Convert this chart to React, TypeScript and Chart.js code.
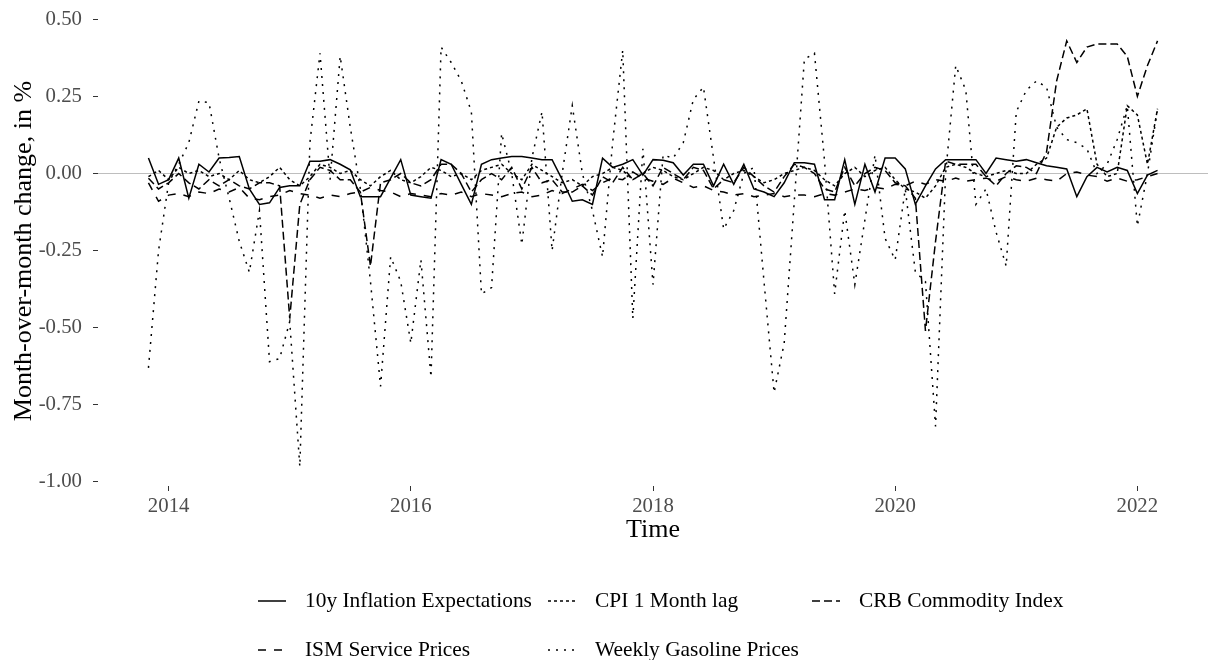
import React, { useEffect, useRef } from "react";
import { Chart, registerables } from "chart.js";

Chart.register(...registerables);

// Monthly observations, Nov 2013 .. Mar 2022
const START_YEAR = 2013;
const START_MONTH = 11; // November
const N_MONTHS = 101;
const months: number[] = [];
for (let i = 0; i < N_MONTHS; i++) months.push(START_YEAR + (START_MONTH - 1 + i) / 12);

const inflation10y = [
  0.05, -0.035, -0.02, 0.05, -0.08, 0.03, 0.005, 0.05, 0.052, 0.055,
  -0.05, -0.1, -0.095, -0.045, -0.04, -0.04, 0.04, 0.04, 0.045, 0.03,
  0.012, -0.075, -0.075, -0.075, -0.015, 0.045, -0.07, -0.075, -0.08, 0.045,
  0.03, -0.035, -0.1, 0.03, 0.045, 0.05, 0.055, 0.055, 0.05, 0.045,
  0.045, -0.02, -0.09, -0.085, -0.1, 0.05, 0.02, 0.03, 0.045, -0.005,
  0.045, 0.043, 0.035, -0.005, 0.03, 0.03, -0.04, 0.03, -0.035, 0.03,
  -0.05, -0.06, -0.075, -0.03, 0.035, 0.035, 0.03, -0.085, -0.085, 0.045,
  -0.1, 0.03, -0.06, 0.05, 0.05, 0.015, -0.1, -0.04, 0.015, 0.045,
  0.045, 0.045, 0.045, 0.0, 0.05, 0.045, 0.04, 0.045, 0.035, 0.025,
  0.02, 0.015, -0.075, -0.01, 0.02, 0.005, 0.02, 0.01, -0.065, -0.005,
  0.01,
];

const cpiLag = [
  -0.01, 0.01, -0.02, 0.02, 0.0, 0.01, -0.01, 0.0, -0.02, 0.01,
  -0.02, -0.03, -0.01, 0.02, -0.02, -0.04, -0.01, 0.03, 0.02, 0.0,
  0.01, -0.02, -0.04, -0.01, 0.01, -0.02, -0.03, -0.01, 0.02, 0.01,
  -0.01, 0.0, -0.02, 0.01, 0.02, 0.03, 0.0, -0.02, 0.03, 0.01,
  -0.01, -0.03, -0.02, -0.04, -0.01, 0.0, 0.02, 0.01, -0.02, 0.0,
  0.02, 0.01, -0.01, -0.02, 0.0, 0.02, 0.01, -0.02, 0.0, 0.01,
  -0.01, -0.03, -0.02, 0.0, 0.01, 0.02, 0.01, -0.02, -0.04, 0.0,
  0.02, -0.01, 0.01, 0.02, -0.02, -0.05, -0.06, -0.08, -0.04, 0.02,
  0.03, 0.02, 0.0, -0.01, 0.0, 0.01, 0.0, 0.0, 0.03, 0.05,
  0.15, 0.18, 0.19, 0.21, 0.03, -0.01, 0.0, 0.22, 0.19, 0.03,
  0.21,
];

const crbIndex = [
  -0.015, -0.05, -0.03, 0.0, -0.03, -0.05, -0.02, -0.04, -0.02, -0.04,
  -0.05, -0.03, -0.03, -0.04, -0.47, -0.1, -0.02, 0.02, 0.01, -0.02,
  -0.02, -0.06, -0.3, -0.03, -0.02, 0.0, -0.03, -0.04, -0.02, 0.03,
  0.03, 0.0, -0.06, -0.02, 0.0, -0.02, 0.02, -0.05, 0.02, -0.03,
  -0.02, -0.06, -0.06, -0.04, -0.07, -0.01, -0.03, 0.02, -0.02, 0.0,
  -0.04, 0.02, 0.0, -0.02, 0.02, 0.01, -0.05, -0.02, -0.03, 0.02,
  -0.01, -0.04, -0.06, -0.01, 0.03, 0.02, 0.0, -0.05, -0.06, 0.02,
  -0.04, 0.0, 0.02, 0.01, -0.03, -0.04, -0.08, -0.51, -0.22, 0.04,
  0.03, 0.03, 0.03, -0.01, -0.04, 0.0, 0.025, 0.02, 0.0, 0.07,
  0.3, 0.43, 0.36, 0.41, 0.42, 0.42, 0.42, 0.38, 0.25, 0.35,
  0.43,
];

const ismServices = [
  -0.03, -0.09, -0.07, -0.065, -0.075, -0.06, -0.065, -0.05, -0.06, -0.045,
  -0.08, -0.085, -0.075, -0.07, -0.055, -0.065, -0.07, -0.08, -0.07, -0.075,
  -0.065, -0.06, -0.045, -0.055, -0.06, -0.075, -0.065, -0.07, -0.075, -0.065,
  -0.07, -0.06, -0.075, -0.065, -0.07, -0.075, -0.065, -0.06, -0.075, -0.07,
  -0.055, -0.065, -0.05, -0.035, -0.055, -0.03, -0.015, -0.02, 0.005, -0.015,
  -0.025, -0.035, -0.015, -0.03, -0.045, -0.04, -0.055, -0.06, -0.07, -0.065,
  -0.075, -0.07, -0.065, -0.075, -0.07, -0.07, -0.075, -0.065, -0.07, -0.06,
  -0.05, -0.055, -0.045, -0.05, -0.035, -0.04, -0.025, -0.035, -0.02, -0.025,
  -0.015, -0.025, -0.02, -0.015, -0.025, -0.01, -0.02, -0.025, -0.015, -0.02,
  -0.025, 0.0, 0.005, -0.005, -0.01, -0.025, -0.015, -0.025, -0.02, -0.01,
  0.0,
];

const gasoline = [
  -0.63, -0.25, -0.03, 0.03, 0.1, 0.235, 0.23, 0.05, -0.08, -0.22,
  -0.32, -0.12, -0.61, -0.6, -0.48, -0.95, 0.1, 0.39, -0.02, 0.38,
  0.15, -0.05, -0.35, -0.69, -0.27, -0.35, -0.55, -0.28, -0.66, 0.41,
  0.36, 0.3, 0.2, -0.39, -0.37, 0.13, 0.0, -0.23, 0.05, 0.2,
  -0.25, 0.0, 0.22, 0.0, -0.12, -0.27, 0.1, 0.4, -0.47, 0.08,
  -0.36, 0.06, 0.05, 0.1, 0.24, 0.28, 0.05, -0.18, -0.12, 0.0,
  0.02, -0.35, -0.71, -0.55, -0.09, 0.37, 0.39, 0.04, -0.39, -0.12,
  -0.36, -0.15, 0.06, -0.21, -0.28, -0.05, -0.32, -0.35, -0.82, 0.0,
  0.35, 0.27, -0.1, -0.05, -0.19, -0.3, 0.2, 0.27, 0.3, 0.28,
  0.15, 0.11, 0.1, 0.08, 0.0, 0.03, 0.11, 0.22, -0.17, 0.0,
  0.21,
];

const seriesLabels = [
  "10y Inflation Expectations",
  "CPI 1 Month lag",
  "CRB Commodity Index",
  "ISM Service Prices",
  "Weekly Gasoline Prices",
];
const seriesValues = [inflation10y, cpiLag, crbIndex, ismServices, gasoline];
const seriesDash: number[][] = [[], [3, 3], [8, 4], [8, 8], [2, 6]];

const xTicks = [2014, 2016, 2018, 2020, 2022];
const yTicks = [-1, -0.75, -0.5, -0.25, 0, 0.25, 0.5];

const FONT = '"Liberation Serif", "Times New Roman", serif';

const zeroLinePlugin = {
  id: "zeroLine",
  beforeDatasetsDraw(chart: any) {
    const { ctx, chartArea, scales } = chart;
    const y = scales.y.getPixelForValue(0);
    ctx.save();
    ctx.strokeStyle = "#BEBEBE";
    ctx.lineWidth = 1.2;
    ctx.beginPath();
    ctx.moveTo(chartArea.left, y);
    ctx.lineTo(chartArea.right, y);
    ctx.stroke();
    ctx.restore();
  },
};

const legendPlugin = {
  id: "gridLegend",
  afterDraw(chart: any) {
    const { ctx } = chart;
    const colX = [258, 548, 812];
    const rowY = [601, 650];
    ctx.save();
    seriesLabels.forEach((label, i) => {
      const col = i % 3;
      const row = Math.floor(i / 3);
      const x = colX[col];
      const y = rowY[row];
      ctx.strokeStyle = "#000";
      ctx.lineWidth = 1.5;
      ctx.setLineDash(seriesDash[i]);
      ctx.beginPath();
      ctx.moveTo(x, y);
      ctx.lineTo(x + 28, y);
      ctx.stroke();
      ctx.setLineDash([]);
      ctx.fillStyle = "#000";
      ctx.font = `21.4px ${FONT}`;
      ctx.textBaseline = "middle";
      ctx.textAlign = "left";
      ctx.fillText(label, x + 47, y);
    });
    ctx.restore();
  },
};

export default function App() {
  const canvasRef = useRef<HTMLCanvasElement | null>(null);

  useEffect(() => {
    if (!canvasRef.current) return;
    const datasets = seriesValues.map((vals, i) => ({
      label: seriesLabels[i],
      data: vals.map((v, j) => ({ x: months[j], y: v })),
      borderColor: "#000000",
      backgroundColor: "#000000",
      borderWidth: 1.5,
      borderDash: seriesDash[i],
      pointRadius: 0,
      tension: 0,
      fill: false,
    }));

    const chart = new Chart(canvasRef.current, {
      type: "line",
      data: { datasets },
      plugins: [zeroLinePlugin, legendPlugin],
      options: {
        animation: false,
        responsive: false,
        maintainAspectRatio: false,
        layout: { padding: { top: 9, right: 0, bottom: 111, left: 0 } },
        plugins: { legend: { display: false }, tooltip: { enabled: false } },
        scales: {
          x: {
            type: "linear",
            min: 2013.4167,
            max: 2022.5833,
            afterBuildTicks: (s: any) => {
              s.ticks = xTicks.map((v) => ({ value: v }));
            },
            afterFit: (s: any) => {
              s.height = 63;
            },
            ticks: {
              callback: (v: any) => String(v),
              font: { family: FONT, size: 20.8 },
              color: "#4D4D4D",
              padding: 3,
              maxRotation: 0,
              autoSkip: false,
            },
            grid: { drawOnChartArea: false, drawTicks: true, tickLength: 5, color: "#333333" },
            border: { display: false },
            title: {
              display: true,
              text: "Time",
              font: { family: FONT, size: 26 },
              color: "#000",
              padding: { top: 0, bottom: 3 },
            },
          },
          y: {
            type: "linear",
            min: -1.013,
            max: 0.51,
            afterBuildTicks: (s: any) => {
              s.ticks = yTicks.map((v) => ({ value: v }));
            },
            afterFit: (s: any) => {
              s.width = 98;
            },
            ticks: {
              callback: (v: any) => Number(v).toFixed(2),
              font: { family: FONT, size: 20.8, lineHeight: 0.5 },
              color: "#4D4D4D",
              padding: 11,
            },
            grid: { drawOnChartArea: false, drawTicks: true, tickLength: 5, color: "#333333" },
            border: { display: false },
            title: {
              display: true,
              text: "Month-over-month change, in %",
              font: { family: FONT, size: 26 },
              color: "#000",
              padding: { top: 9, bottom: 0 },
            },
          },
        },
      },
    } as any);

    return () => chart.destroy();
  }, []);

  return (
    <div style={{ position: "absolute", left: 0, top: 0, width: 1208, height: 660, background: "#fff" }}>
      <canvas ref={canvasRef} width={1208} height={660} style={{ width: 1208, height: 660 }} />
    </div>
  );
}
